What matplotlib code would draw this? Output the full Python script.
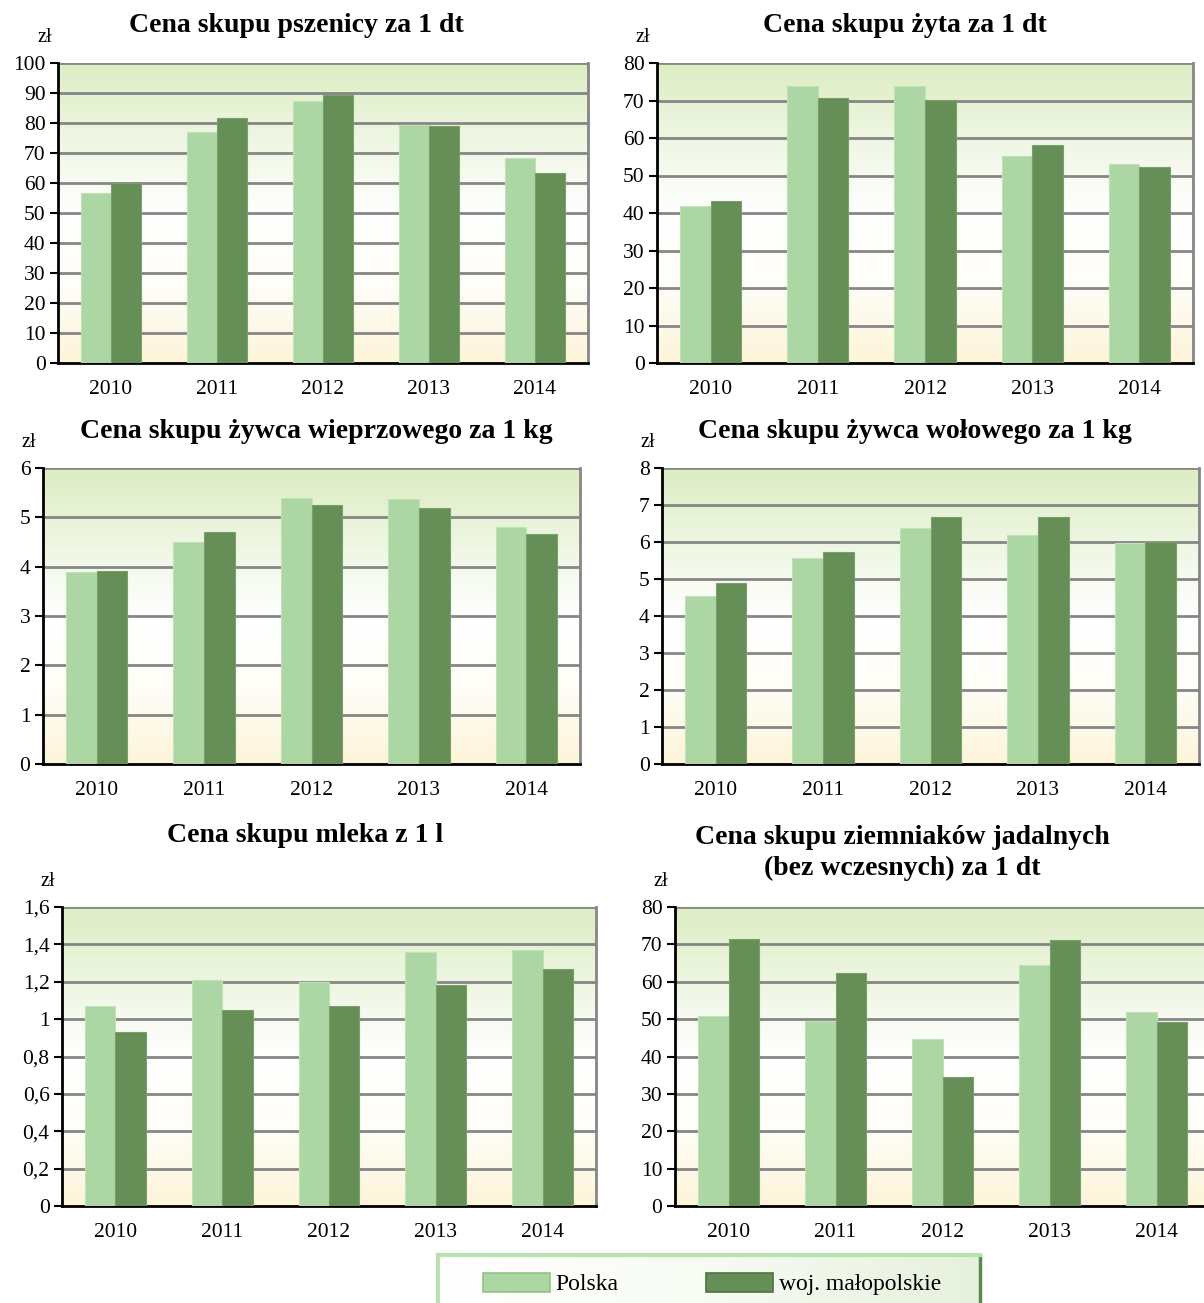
import numpy as np
import matplotlib.pyplot as plt
from matplotlib.colors import LinearSegmentedColormap
from matplotlib.patches import Patch

plt.rcParams['font.family'] = ['Liberation Serif', 'DejaVu Serif']

# data -------------------------------------------------------------
years = ['2010', '2011', '2012', '2013', '2014']
series_names = ['Polska', 'woj. małopolskie']

wheat_pl = [56.7, 77.0, 87.3, 79.4, 68.3]
wheat_mp = [60.0, 81.8, 89.2, 79.1, 63.3]
rye_pl = [42.0, 74.0, 74.0, 55.2, 53.2]
rye_mp = [43.3, 70.8, 70.1, 58.1, 52.4]
pork_pl = [3.89, 4.51, 5.40, 5.38, 4.81]
pork_mp = [3.91, 4.71, 5.26, 5.18, 4.67]
beef_pl = [4.55, 5.57, 6.38, 6.18, 5.97]
beef_mp = [4.89, 5.73, 6.68, 6.68, 6.00]
milk_pl = [1.07, 1.21, 1.20, 1.36, 1.37]
milk_mp = [0.93, 1.05, 1.07, 1.18, 1.27]
potato_pl = [50.8, 49.6, 44.8, 64.4, 51.9]
potato_mp = [71.5, 62.3, 34.4, 71.3, 49.3]

titles = ['Cena skupu pszenicy za 1 dt',
          'Cena skupu żyta za 1 dt',
          'Cena skupu żywca wieprzowego za 1 kg',
          'Cena skupu żywca wołowego za 1 kg',
          'Cena skupu mleka z 1 l',
          'Cena skupu ziemniaków jadalnych\n(bez wczesnych) za 1 dt']
milk_labels = ['0', '0,2', '0,4', '0,6', '0,8', '1', '1,2', '1,4', '1,6']

c_pl = '#acd6a4'
c_mp = '#658f56'

W, H = 1204, 1303
fig = plt.figure(figsize=(W / 100, H / 100), dpi=100)

# gradient used as plot background
bg = LinearSegmentedColormap.from_list('bg', ['#fdf5d9', '#fefdf7', '#ffffff', '#eef6e2', '#dcedc2'])
grad = np.linspace(0, 1, 256).reshape(-1, 1)


def px_axes(x0, y0, x1, y1):
    return fig.add_axes([x0 / W, 1 - y1 / H, (x1 - x0) / W, (y1 - y0) / H])


def panel(rect, pl, mp, ymax, step, title, tx, ty, ticklabels=None):
    ax = px_axes(*rect)
    ax.imshow(grad, cmap=bg, extent=[0, 1, 0, 1], transform=ax.transAxes,
              aspect='auto', origin='lower', zorder=0)
    x = np.arange(len(years))
    w = 0.285
    ax.bar(x - w / 2, pl, w, color=c_pl, edgecolor='#bfe2b7', linewidth=0.8, zorder=3)
    ax.bar(x + w / 2, mp, w, color=c_mp, edgecolor='#7a9f6b', linewidth=0.8, zorder=3)
    ax.set_xlim(-0.5, len(years) - 0.5)
    ax.set_ylim(0, ymax)
    ticks = np.arange(0, ymax + step / 2, step)
    ax.set_yticks(ticks)
    if ticklabels is not None:
        ax.set_yticklabels(ticklabels)
    for t in ticks[1:]:
        ax.axhline(t, color='#868686', lw=2, zorder=2)
    ax.set_xticks(x)
    ax.set_xticklabels(years)
    ax.tick_params(axis='x', length=0, pad=12, labelsize=15.5)
    ax.tick_params(axis='y', length=6, width=1.5, pad=3, labelsize=15.5, direction='out')
    ax.spines['left'].set_color('black')
    ax.spines['left'].set_linewidth(2)
    ax.spines['bottom'].set_color('black')
    ax.spines['bottom'].set_linewidth(2)
    ax.spines['right'].set_color('#868686')
    ax.spines['right'].set_linewidth(2)
    ax.spines['top'].set_visible(False)
    ax.text(-0.012, 1.055, 'zł', transform=ax.transAxes, ha='right', va='bottom', fontsize=14.5)
    fig.text(tx / W, 1 - ty / H, title, ha='center', va='center',
             fontsize=20, fontweight='bold', linespacing=1.3)
    return ax


panel((58, 63, 588, 363), wheat_pl, wheat_mp, 100, 10, titles[0], 296, 25)
panel((657, 63, 1193, 363), rye_pl, rye_mp, 80, 10, titles[1], 905, 25)
panel((43, 468, 580, 764), pork_pl, pork_mp, 6, 1, titles[2], 316, 432)
panel((662, 468, 1199, 764), beef_pl, beef_mp, 8, 1, titles[3], 915, 432)
panel((62, 907, 596, 1206), milk_pl, milk_mp, 1.6, 0.2, titles[4], 305, 836, milk_labels)
panel((675, 907, 1210, 1206), potato_pl, potato_mp, 80, 10, titles[5], 902, 853)

# legend box at the bottom
lax = px_axes(438, 1255, 980, 1303)
lax.imshow(np.linspace(0, 1, 256).reshape(1, -1),
           cmap=LinearSegmentedColormap.from_list('lg', ['#ffffff', '#f7fbf3', '#e6f1dc']),
           extent=[0, 1, 0, 1], transform=lax.transAxes, aspect='auto', zorder=0)
lax.set_xticks([])
lax.set_yticks([])
for s in ['top', 'left']:
    lax.spines[s].set_color('#b9e0b0')
    lax.spines[s].set_linewidth(3)
lax.spines['right'].set_color('#5d8a4d')
lax.spines['right'].set_linewidth(2.5)
lax.spines['bottom'].set_visible(False)
handles = [Patch(facecolor=c_pl, edgecolor='#8fc585', lw=1.2),
           Patch(facecolor=c_mp, edgecolor='#4e7440', lw=1.2)]
fig.legend(handles, series_names, loc='center', bbox_to_anchor=(712 / W, 1 - 1284 / H),
           ncol=2, frameon=False, fontsize=17, handlelength=2.85, handleheight=0.9,
           columnspacing=3.7, handletextpad=0.25)

fig.savefig('out.png', dpi=100)
